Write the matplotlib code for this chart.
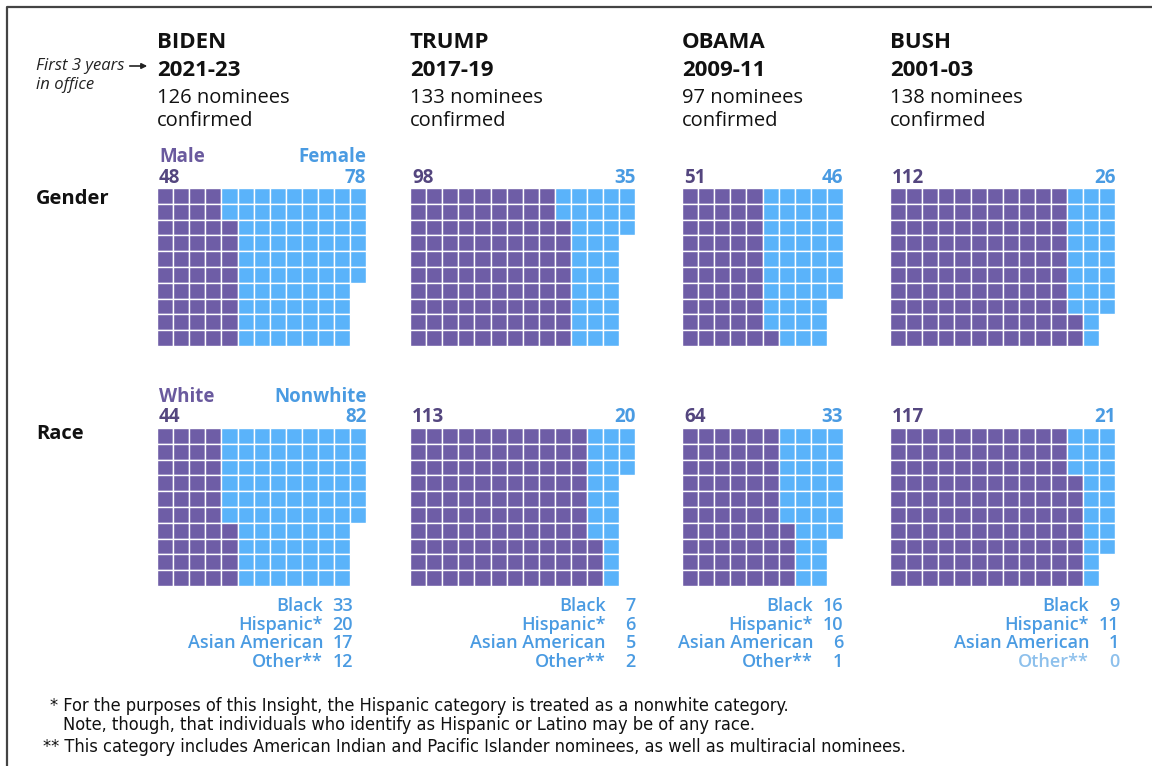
import matplotlib
matplotlib.use("Agg")
import matplotlib.pyplot as plt
from matplotlib.patches import Rectangle

# ---- data ----
presidents = ["BIDEN", "TRUMP", "OBAMA", "BUSH"]
terms = ["2021-23", "2017-19", "2009-11", "2001-03"]
confirmed = [126, 133, 97, 138]
male = [48, 98, 51, 112]
female = [78, 35, 46, 26]
white = [44, 113, 64, 117]
nonwhite = [82, 20, 33, 21]
race_labels = ["Black", "Hispanic*", "Asian American", "Other**"]
black = [33, 7, 16, 9]
hispanic = [20, 6, 10, 11]
asian = [17, 5, 6, 1]
other = [12, 2, 1, 0]

PURPLE = "#6E5DA6"
BLUE = "#5AB3FA"
TXT_PURPLE = "#6A5A9E"
NUM_PURPLE = "#54467F"
TXT_BLUE = "#4A9BE2"
PALE_BLUE = "#8DC0EC"

plt.rcParams["font.family"] = ["Open Sans", "DejaVu Sans"]

W, H = 1152, 766
fig = plt.figure(figsize=(W / 100, H / 100), dpi=100)
ax = fig.add_axes([0, 0, 1, 1])
ax.set_xlim(0, W)
ax.set_ylim(H, 0)
ax.axis("off")

# frame (left and top)
ax.plot([6.5, 6.5, W], [H, 6.5, 6.5], color="#444444", lw=1.6)

col_x = [157, 410, 682, 890]
num_right = [353, 636, 843, 1119]   # right edge of the breakdown numbers
rows = 10
cw, ch = 16.1, 15.8
tops = {"gender": 188, "race": 428}


def waffle(x0, y0, first, second):
    total = first + second
    ncols = -(-total // rows)
    for c in range(ncols):
        for r in range(rows):
            if c * rows + r >= total:
                continue
            is_first = c * rows + (rows - 1 - r) < first
            ax.add_patch(Rectangle((x0 + c * cw, y0 + r * ch), cw, ch,
                                   facecolor=PURPLE if is_first else BLUE,
                                   edgecolor="white", lw=1.0))
    return ncols


# left annotations
ax.text(36, 66, "First 3 years", fontsize=12, style="italic", va="center", color="#222222")
ax.text(36, 85, "in office", fontsize=12, style="italic", va="center", color="#222222")
ax.annotate("", xy=(150, 66), xytext=(127, 66),
            arrowprops=dict(arrowstyle="-|>", color="#222222", lw=1.2, mutation_scale=8))
ax.text(36, 199, "Gender", fontsize=14.5, fontweight="bold", va="center", color="#111111")
ax.text(36, 434, "Race", fontsize=14.5, fontweight="bold", va="center", color="#111111")

for i, name in enumerate(presidents):
    x0 = col_x[i]
    ax.text(x0, 42, name, fontsize=16, fontweight="bold", va="center", color="#111111")
    ax.text(x0, 70, terms[i], fontsize=16, fontweight="bold", va="center", color="#111111")
    ax.text(x0, 98, f"{confirmed[i]} nominees", fontsize=14.5, va="center", color="#111111")
    ax.text(x0, 121, "confirmed", fontsize=14.5, va="center", color="#111111")

    n_g = waffle(x0, tops["gender"], male[i], female[i])
    n_r = waffle(x0, tops["race"], white[i], nonwhite[i])
    right_g = x0 + n_g * cw
    right_r = x0 + n_r * cw

    if i == 0:
        ax.text(x0 + 2, 157, "Male", fontsize=13.5, fontweight="bold", va="center", color=TXT_PURPLE)
        ax.text(right_g, 157, "Female", fontsize=13.5, fontweight="bold", va="center", ha="right", color=TXT_BLUE)
        ax.text(x0 + 2, 397, "White", fontsize=13.5, fontweight="bold", va="center", color=TXT_PURPLE)
        ax.text(right_r, 397, "Nonwhite", fontsize=13.5, fontweight="bold", va="center", ha="right", color=TXT_BLUE)
    ax.text(x0 + 2, 178, str(male[i]), fontsize=13.5, fontweight="bold", va="center", color=NUM_PURPLE)
    ax.text(right_g, 178, str(female[i]), fontsize=13.5, fontweight="bold", va="center", ha="right", color=TXT_BLUE)
    ax.text(x0 + 2, 417, str(white[i]), fontsize=13.5, fontweight="bold", va="center", color=NUM_PURPLE)
    ax.text(right_r, 417, str(nonwhite[i]), fontsize=13.5, fontweight="bold", va="center", ha="right", color=TXT_BLUE)

    vals = [black[i], hispanic[i], asian[i], other[i]]
    for k, (lab, v) in enumerate(zip(race_labels, vals)):
        y = 606 + k * 18.7
        col = PALE_BLUE if v == 0 else TXT_BLUE
        ax.text(num_right[i] - 30, y, lab, fontsize=13, fontweight="semibold", va="center", ha="right", color=col)
        ax.text(num_right[i], y, str(v), fontsize=13, fontweight="semibold", va="center", ha="right", color=col)

note = dict(fontsize=13.1, family="DejaVu Sans", fontstretch="condensed", va="center", color="#111111")
ax.text(50, 706, "* For the purposes of this Insight, the Hispanic category is treated as a nonwhite category.", **note)
ax.text(63, 725, "Note, though, that individuals who identify as Hispanic or Latino may be of any race.", **note)
ax.text(43, 747, "** This category includes American Indian and Pacific Islander nominees, as well as multiracial nominees.", **note)

fig.savefig("out.png", dpi=100, facecolor="white")
